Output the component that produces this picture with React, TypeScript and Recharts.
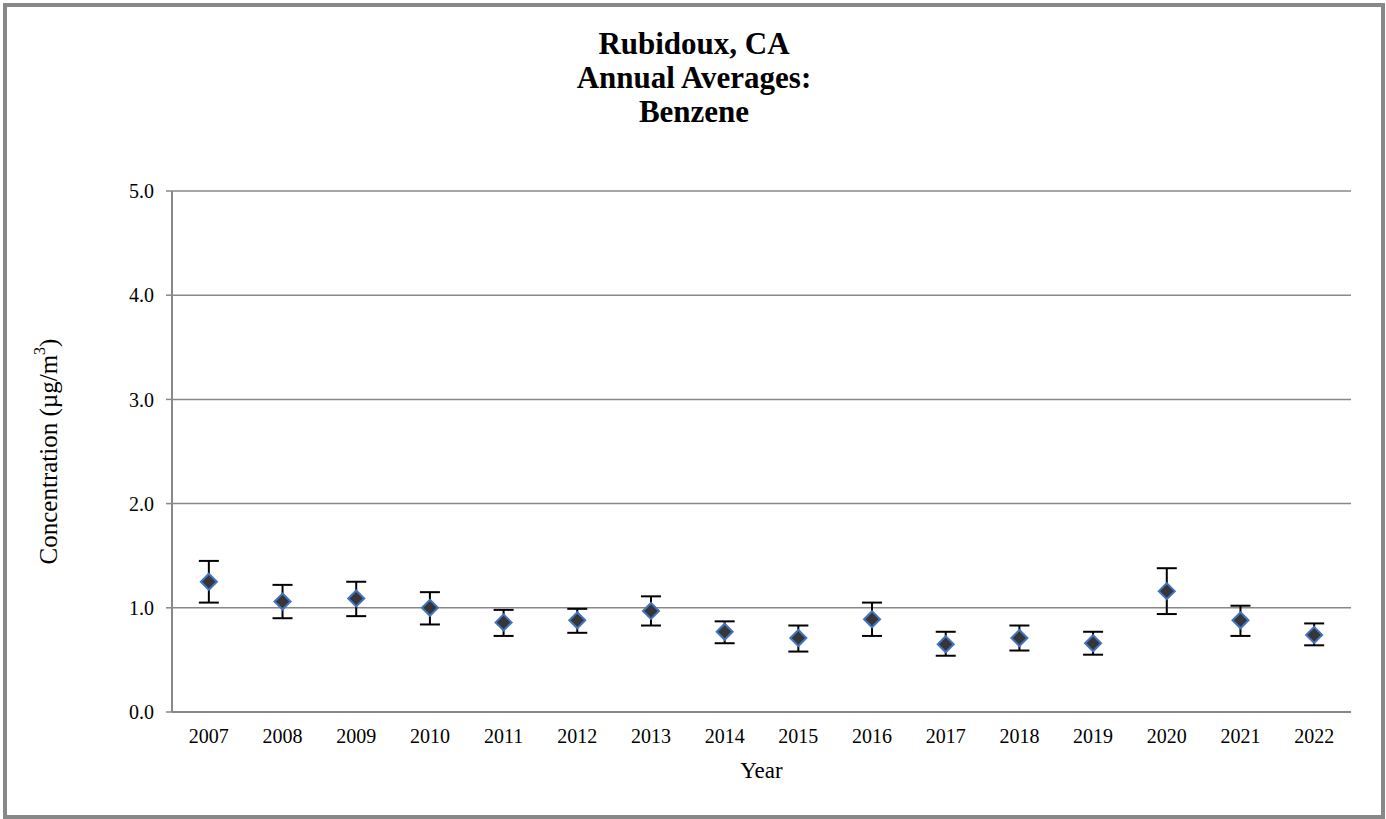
import {
  ComposedChart,
  Scatter,
  ErrorBar,
  XAxis,
  YAxis,
  CartesianGrid,
} from 'recharts'

const years = ['2007', '2008', '2009', '2010', '2011', '2012', '2013', '2014', '2015', '2016', '2017', '2018', '2019', '2020', '2021', '2022']
const means = [1.25, 1.06, 1.09, 1.0, 0.86, 0.88, 0.97, 0.77, 0.71, 0.89, 0.65, 0.71, 0.66, 1.16, 0.88, 0.74]
const errLow = [0.2, 0.16, 0.17, 0.16, 0.13, 0.12, 0.14, 0.11, 0.13, 0.16, 0.11, 0.12, 0.11, 0.22, 0.15, 0.1]
const errHigh = [0.2, 0.16, 0.16, 0.15, 0.12, 0.11, 0.14, 0.1, 0.12, 0.16, 0.12, 0.12, 0.11, 0.22, 0.14, 0.11]
const yTicks = [0, 1, 2, 3, 4, 5]
const titleLines = ['Rubidoux, CA', 'Annual Averages:', 'Benzene']

// x sits in the middle of each year's band so the tick marks fall between years
const data = years.map((year, i) => ({
  x: i + 0.5,
  year,
  mean: means[i],
  err: [errLow[i], errHigh[i]],
}))

const bandTicks = years.map((_, i) => i).concat(years.length)
const labelTicks = years.map((_, i) => i + 0.5)

const FONT = '"Liberation Serif", "Times New Roman", serif'
const GRAY = '#888888'

const Diamond = (props: any) => {
  const { cx, cy } = props
  if (cx == null || cy == null) return null
  const r = 8
  return (
    <polygon
      points={`${cx},${cy - r} ${cx + r},${cy} ${cx},${cy + r} ${cx - r},${cy}`}
      fill="#363636"
      stroke="#4472c4"
      strokeWidth={2}
    />
  )
}

const YTitle = (props: any) => {
  const { viewBox } = props
  const cx = viewBox.x
  const cy = viewBox.y + viewBox.height / 2
  return (
    <text
      x={cx}
      y={cy}
      transform={`rotate(-90, ${cx}, ${cy})`}
      textAnchor="middle"
      dominantBaseline="central"
      fontFamily={FONT}
      fontSize={25}
      fill="#000"
    >
      Concentration (µg/m
      <tspan baselineShift="super" fontSize={16}>3</tspan>)
    </text>
  )
}

const XTitle = (props: any) => {
  const { viewBox } = props
  return (
    <text
      x={viewBox.x + viewBox.width / 2}
      y={viewBox.y + 57}
      textAnchor="middle"
      fontFamily={FONT}
      fontSize={23}
      fill="#000"
    >
      Year
    </text>
  )
}

export default function App() {
  return (
    <div style={{ position: 'absolute', left: 0, top: 0, width: 1386, height: 819, background: '#fff' }}>
      <div
        style={{
          position: 'absolute',
          left: 3,
          top: 3,
          width: 1382,
          height: 816,
          border: `4px solid ${GRAY}`,
          boxSizing: 'border-box',
        }}
      />
      {titleLines.map((line, i) => (
        <div
          key={line}
          style={{
            position: 'absolute',
            left: 0,
            width: 1388,
            top: 27 + i * 34,
            height: 34,
            textAlign: 'center',
            fontFamily: FONT,
            fontWeight: 'bold',
            fontSize: 31,
            lineHeight: '34px',
            color: '#000',
          }}
        >
          {line}
        </div>
      ))}
      <div style={{ position: 'absolute', left: 0, top: 0 }}>
        <ComposedChart
          width={1386}
          height={819}
          data={data}
          margin={{ top: 191, right: 35, bottom: 28, left: 48 }}
        >
          <CartesianGrid
            xAxisId="band"
            vertical={false}
            stroke={GRAY}
            strokeWidth={1.5}
          />
          <XAxis
            xAxisId="band"
            dataKey="x"
            type="number"
            domain={[0, years.length]}
            ticks={bandTicks}
            tick={false}
            tickSize={5}
            height={9}
            axisLine={{ stroke: GRAY, strokeWidth: 2 }}
            tickLine={{ stroke: GRAY, strokeWidth: 2 }}
          />
          <XAxis
            xAxisId="label"
            dataKey="x"
            type="number"
            domain={[0, years.length]}
            ticks={labelTicks}
            tickFormatter={(v: number) => years[Math.floor(v)]}
            interval={0}
            height={70}
            axisLine={false}
            tickLine={false}
            tick={{ fontFamily: FONT, fontSize: 20, fill: '#000' }}
            label={{ content: <XTitle /> }}
          />
          <YAxis
            type="number"
            domain={[0, 5]}
            ticks={yTicks}
            tickFormatter={(v: number) => v.toFixed(1)}
            width={124}
            tickSize={6}
            tickMargin={12}
            axisLine={{ stroke: GRAY, strokeWidth: 2 }}
            tickLine={{ stroke: GRAY, strokeWidth: 1.5 }}
            tick={{ fontFamily: FONT, fontSize: 20, fill: '#000' }}
            label={{ content: <YTitle /> }}
          />
          <Scatter
            xAxisId="band"
            dataKey="mean"
            shape={<Diamond />}
            isAnimationActive={false}
          >
            <ErrorBar
              dataKey="err"
              direction="y"
              width={10}
              stroke="#000"
              strokeWidth={2}
              isAnimationActive={false}
            />
          </Scatter>
        </ComposedChart>
      </div>
    </div>
  )
}
